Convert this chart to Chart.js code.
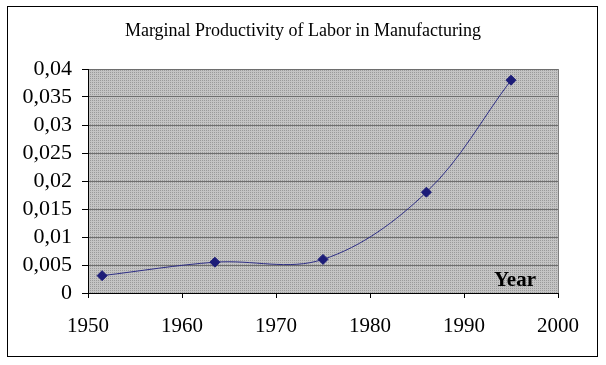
<!DOCTYPE html>
<html>
<head>
<meta charset="utf-8">
<script src="https://cdn.jsdelivr.net/npm/chart.js@4"></script>
<style>
  html, body { margin: 0; padding: 0; background: #fff; }
  #wrap { width: 606px; height: 365px; }
</style>
</head>
<body>
<div id="wrap"><canvas id="mplChart" width="606" height="365"></canvas></div>
<script>
// Data
const years = [1951.5, 1963.5, 1975, 1986, 1995];
const productivity = [0.0031, 0.0055, 0.006, 0.018, 0.038];
const xTicks = [1950, 1960, 1970, 1980, 1990, 2000];
const yTicks = [0, 0.005, 0.01, 0.015, 0.02, 0.025, 0.03, 0.035, 0.04];
const chartTitle = 'Marginal Productivity of Labor in Manufacturing';
const axisNote = 'Year';

const serif = '"Liberation Serif", "Times New Roman", serif';

// gray dotted fill like the old Excel plot area
function makePattern(ctx) {
  const c = document.createElement('canvas');
  c.width = 2; c.height = 2;
  const p = c.getContext('2d');
  p.fillStyle = '#c4c4c4';
  p.fillRect(0, 0, 2, 2);
  p.fillStyle = '#9a9a9a';
  p.fillRect(0, 0, 1, 1);
  return ctx.createPattern(c, 'repeat');
}

const decor = {
  id: 'decor',
  beforeDraw(chart) {
    const { ctx, chartArea: a } = chart;
    ctx.save();
    ctx.fillStyle = makePattern(ctx);
    ctx.fillRect(a.left, a.top, a.right - a.left, a.bottom - a.top);
    ctx.restore();
  },
  afterDatasetsDraw(chart) {
    const { ctx, chartArea: a } = chart;
    ctx.save();
    // right edge of plot area
    ctx.strokeStyle = '#808080';
    ctx.lineWidth = 1;
    ctx.beginPath();
    ctx.moveTo(a.right + 0.5, a.top);
    ctx.lineTo(a.right + 0.5, a.bottom);
    ctx.stroke();
    // outer frame
    ctx.strokeStyle = '#000';
    ctx.strokeRect(7.5, 6.5, 590, 350);
    // title
    ctx.fillStyle = '#000';
    ctx.font = '18px ' + serif;
    ctx.textAlign = 'center';
    ctx.textBaseline = 'alphabetic';
    ctx.fillText(chartTitle, 303, 36);
    // axis note inside plot
    ctx.font = 'bold 21px ' + serif;
    ctx.textAlign = 'right';
    ctx.fillText(axisNote, 536, 286);
    ctx.restore();
  }
};

const ctx = document.getElementById('mplChart').getContext('2d');

new Chart(ctx, {
  type: 'line',
  data: {
    datasets: [{
      data: years.map((y, i) => ({ x: y, y: productivity[i] })),
      borderColor: '#2e2e86',
      borderWidth: 1,
      tension: 0.35,
      fill: false,
      pointStyle: 'rectRot',
      pointRadius: 5,
      pointBackgroundColor: '#1c1c78',
      pointBorderColor: '#1c1c78',
      pointBorderWidth: 1
    }]
  },
  options: {
    responsive: false,
    maintainAspectRatio: false,
    animation: false,
    layout: { padding: { left: 0, top: 69, right: 48, bottom: 0 } },
    plugins: {
      legend: { display: false },
      tooltip: { enabled: false }
    },
    scales: {
      x: {
        type: 'linear',
        min: 1950,
        max: 2000,
        afterBuildTicks: s => { s.ticks = xTicks.map(v => ({ value: v })); },
        afterFit: s => { s.height = 72; },
        grid: {
          drawOnChartArea: false,
          drawTicks: true,
          tickLength: 5,
          color: '#000'
        },
        border: { color: '#000', width: 1 },
        ticks: {
          color: '#000',
          font: { family: serif, size: 21 },
          padding: 16,
          maxRotation: 0,
          autoSkip: false,
          callback: v => String(v)
        }
      },
      y: {
        min: 0,
        max: 0.04,
        afterBuildTicks: s => { s.ticks = yTicks.map(v => ({ value: v })); },
        afterFit: s => { s.width = 88; },
        grid: {
          color: '#6e6e6e',
          lineWidth: 1,
          drawTicks: true,
          tickLength: 6,
          tickColor: '#000'
        },
        border: { color: '#000', width: 1 },
        ticks: {
          color: '#000',
          font: { family: serif, size: 22 },
          padding: 10,
          autoSkip: false,
          callback: v => String(Math.round(v * 1000) / 1000).replace('.', ',')
        }
      }
    }
  },
  plugins: [decor]
});
</script>
</body>
</html>
